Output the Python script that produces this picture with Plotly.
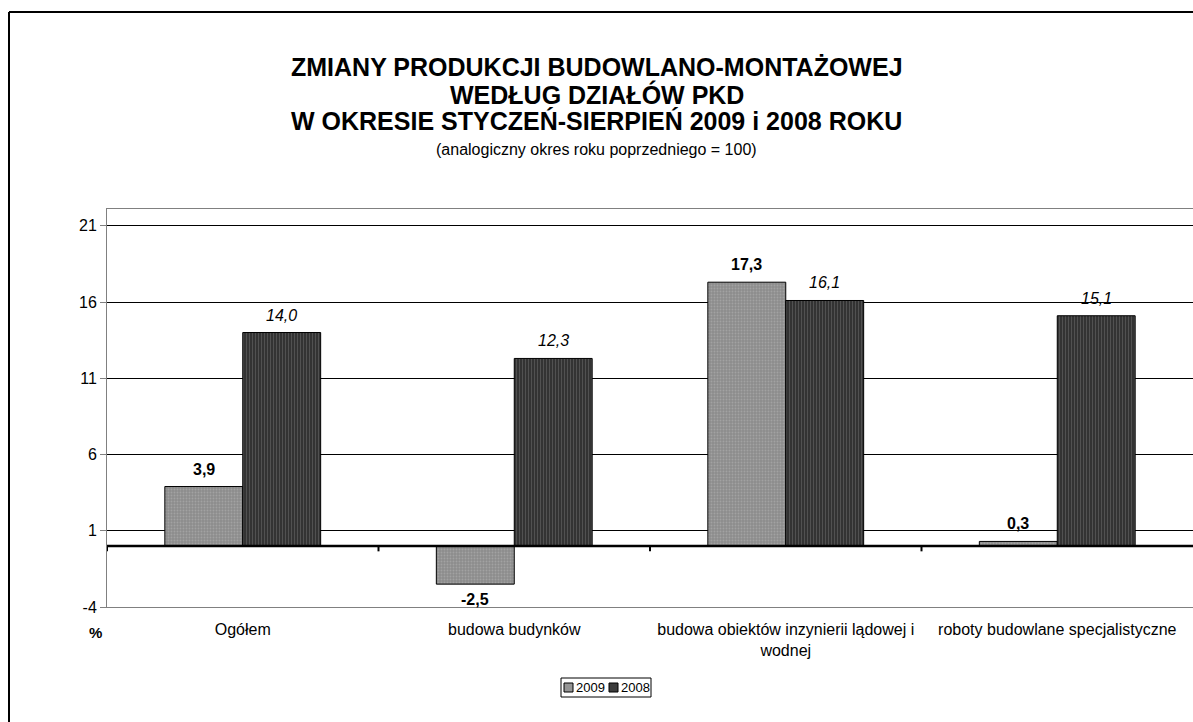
import plotly.graph_objects as go

categories = ["Ogółem", "budowa budynków", "budowa obiektów inzynierii lądowej i<br>wodnej", "roboty budowlane specjalistyczne"]
series_names = ["2009", "2008"]
values_2009 = [3.9, -2.5, 17.3, 0.3]
values_2008 = [14.0, 12.3, 16.1, 15.1]
y_ticks = [-4, 1, 6, 11, 16, 21]
y_tick_labels = ["-4", "1", "6", "11", "16", "21"]
title_lines = ["ZMIANY PRODUKCJI BUDOWLANO-MONTAŻOWEJ", "WEDŁUG DZIAŁÓW PKD",
               "W OKRESIE STYCZEŃ-SIERPIEŃ 2009 i 2008 ROKU"]
subtitle = "(analogiczny okres roku poprzedniego = 100)"

FONT = "Liberation Sans, Arial, sans-serif"
W, H = 1193, 722
ML, MR, MT, MB = 107, 0, 209, 115
PW, PH = W - ML - MR, H - MT - MB
COL_2009 = "#959595"
COL_2008 = "#3c3c3c"


def px_x(x):
    return (x - ML) / PW


def px_y(y):
    return (H - MB - y) / PH


def fmt(v):
    return f"{v:.1f}".replace(".", ",")


fig = go.Figure()
fig.add_trace(go.Bar(
    name=series_names[0], x=categories, y=values_2009,
    marker=dict(color=COL_2009, line=dict(color="#000000", width=1),
                pattern=dict(shape=".", fgcolor="#b8b8b8", bgcolor="#8c8c8c", size=3, solidity=0.3)),
))
fig.add_trace(go.Bar(
    name=series_names[1], x=categories, y=values_2008,
    marker=dict(color=COL_2008, line=dict(color="#000000", width=1),
                pattern=dict(shape="|", fgcolor="#707070", bgcolor="#333333", size=3, solidity=0.35)),
))

cat_px = PW / len(categories)
bargap = 0.426
bar_px = cat_px * (1 - bargap) / 2
annotations = []
for vals, sign, style in [(values_2009, -1, "bold"), (values_2008, 1, "italic")]:
    for c, v in zip(categories, vals):
        annotations.append(dict(
            x=c, y=v, xref="x", yref="y", text=fmt(v), showarrow=False,
            xshift=sign * bar_px / 2,
            yanchor="bottom" if v >= 0 else "top",
            yshift=7 if v >= 0 else -5,
            font=dict(family=FONT, size=16, color="#000000",
                      weight="bold" if style == "bold" else "normal",
                      style="italic" if style == "italic" else "normal"),
        ))

# title lines
for i, line in enumerate(title_lines):
    annotations.append(dict(
        xref="paper", yref="paper", x=px_x(W / 2), y=px_y(67 + 27 * i),
        text=f"<b>{line}</b>", showarrow=False, xanchor="center", yanchor="middle",
        font=dict(family=FONT, size=25, color="#000000")))
# subtitle
annotations.append(dict(
    xref="paper", yref="paper", x=px_x(W / 2), y=px_y(149),
    text=subtitle, showarrow=False, xanchor="center", yanchor="middle",
    font=dict(family=FONT, size=16, color="#000000")))
# % label
annotations.append(dict(
    xref="paper", yref="paper", x=px_x(87), y=px_y(632),
    text="<b>%</b>", showarrow=False, yanchor="middle",
    font=dict(family=FONT, size=15, color="#000000")))

shapes = []
# zero line
shapes.append(dict(type="line", xref="paper", yref="y", x0=0, x1=1, y0=0, y1=0,
                   line=dict(color="#000000", width=2.5)))
# category boundary ticks on the zero line
for i in range(len(categories)):
    shapes.append(dict(type="line", xref="x", yref="y", x0=i - 0.5, x1=i - 0.5,
                       y0=0, y1=-0.35, line=dict(color="#000000", width=2)))
# outer chart border (left and top)
shapes.append(dict(type="line", xref="paper", yref="paper", x0=px_x(9), x1=px_x(9),
                   y0=px_y(12), y1=px_y(H + 20), line=dict(color="#000000", width=2)))
shapes.append(dict(type="line", xref="paper", yref="paper", x0=px_x(9), x1=px_x(W + 20),
                   y0=px_y(12), y1=px_y(12), line=dict(color="#000000", width=2)))

# compact legend box (legend keys in the series colours)
leg_x0, leg_x1, leg_y0, leg_y1 = 561, 651, 678, 697
shapes.append(dict(type="rect", xref="paper", yref="paper",
                   x0=px_x(leg_x0), x1=px_x(leg_x1), y0=px_y(leg_y0), y1=px_y(leg_y1),
                   line=dict(color="#000000", width=1), fillcolor="#ffffff"))
for k, (name, col) in enumerate(zip(series_names, [COL_2009, COL_2008])):
    sx = 564 + 45 * k
    shapes.append(dict(type="rect", xref="paper", yref="paper",
                       x0=px_x(sx), x1=px_x(sx + 9), y0=px_y(683), y1=px_y(692),
                       line=dict(color="#000000", width=1), fillcolor=col))
    annotations.append(dict(
        xref="paper", yref="paper", x=px_x(sx + 10), y=px_y(687.5), text=name,
        showarrow=False, xanchor="left", yanchor="middle",
        font=dict(family=FONT, size=13, color="#000000")))

fig.update_layout(
    width=W, height=H,
    margin=dict(l=ML, r=MR, t=MT, b=MB, pad=0),
    paper_bgcolor="#ffffff", plot_bgcolor="#ffffff",
    barmode="group", bargap=bargap, bargroupgap=0,
    font=dict(family=FONT, size=16, color="#000000"),
    xaxis=dict(
        showgrid=False, showline=True, linecolor="#808080", linewidth=1, mirror=True,
        ticks="", tickfont=dict(family=FONT, size=16, color="#000000"),
        ticklabelstandoff=8, range=[-0.5, len(categories) - 0.5],
    ),
    yaxis=dict(
        range=[-4, 22.1], tickvals=y_ticks, ticktext=y_tick_labels,
        showgrid=True, gridcolor="#000000", gridwidth=1,
        showline=True, linecolor="#808080", linewidth=1, ticks="outside", ticklen=6,
        tickcolor="#808080", zeroline=False,
        tickfont=dict(family=FONT, size=16, color="#000000"),
    ),
    showlegend=False,
    annotations=annotations,
    shapes=shapes,
)

fig.write_html("out.html", config={"displayModeBar": False},
               post_script="document.body.style.margin='0px';")
